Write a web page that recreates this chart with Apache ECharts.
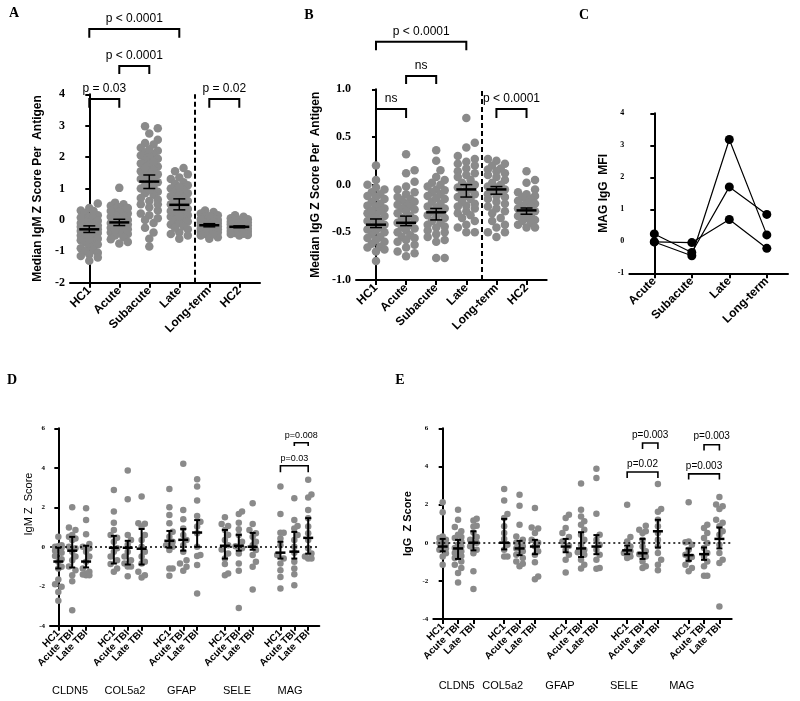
<!DOCTYPE html>
<html>
<head>
<meta charset="utf-8">
<script src="https://cdn.jsdelivr.net/npm/echarts@6/dist/echarts.min.js"></script>
<style>html,body{margin:0;padding:0;background:#fff}#c{width:800px;height:701px}</style>
</head>
<body>
<div id="c"></div>
<script>
// ---------------- DATA ----------------
const catsAB = ['HC1','Acute','Subacute','Late','Long-term','HC2'];
const catsC = ['Acute','Subacute','Late','Long-term'];
const antigens = ['CLDN5','COL5a2','GFAP','SELE','MAG'];
const groupsDE = ['HC1','Acute TBI','Late TBI'];

// Panel A: median IgM Z score per antigen
const aValues = [
  [0.52,0.38,0.3,0.22,0.15,0.1,0.05,0.0,-0.03,-0.08,-0.12,-0.15,-0.2,-0.22,-0.25,-0.28,-0.3,-0.33,-0.36,-0.4,-0.42,-0.45,-0.5,-0.52,-0.55,-0.6,-0.65,-0.7,-0.72,-0.78,-0.85,-0.9,-0.95,-1.0,-1.05,-1.1,-1.15,-1.2,-1.3,0.28,-0.1,-0.35,-0.62,-0.18,0.08],
  [1.02,0.55,0.5,0.45,0.4,0.35,0.3,0.25,0.2,0.15,0.1,0.05,0.0,-0.05,-0.1,-0.12,-0.15,-0.2,-0.25,-0.28,-0.3,-0.35,-0.4,-0.42,-0.45,-0.5,-0.55,-0.62,-0.7,-0.75,0.28,0.12,-0.02,-0.18,0.38,-0.32],
  [2.98,2.92,2.75,2.55,2.45,2.4,2.3,2.2,2.15,2.1,2.05,2.0,1.95,1.9,1.8,1.75,1.7,1.6,1.55,1.5,1.45,1.4,1.3,1.25,1.2,1.1,1.05,1.0,0.9,0.85,0.8,0.7,0.6,0.5,0.4,0.3,0.2,0.15,0.0,-0.1,-0.25,-0.4,-0.6,-0.85,1.65,1.35,0.95,2.25,0.65,1.85,0.5,0.05],
  [1.65,1.55,1.45,1.35,1.3,1.2,1.15,1.1,1.0,0.95,0.9,0.85,0.8,0.75,0.7,0.6,0.55,0.5,0.45,0.4,0.35,0.3,0.25,0.2,0.15,0.1,0.05,0.0,-0.05,-0.1,-0.15,-0.2,-0.3,-0.4,-0.45,-0.5,-0.6,0.65,0.28,1.05,0.12,-0.25],
  [0.3,0.25,0.2,0.15,0.1,0.05,0.0,-0.02,-0.05,-0.08,-0.1,-0.12,-0.15,-0.18,-0.2,-0.22,-0.25,-0.28,-0.3,-0.32,-0.35,-0.38,-0.4,-0.42,-0.45,-0.5,-0.55,-0.6,0.12,-0.06,-0.16,-0.26,-0.36,0.02,-0.46],
  [0.15,0.1,0.05,0.02,0.0,-0.03,-0.06,-0.08,-0.1,-0.12,-0.15,-0.18,-0.2,-0.22,-0.25,-0.28,-0.3,-0.32,-0.35,-0.38,-0.4,-0.42,-0.45,-0.48,-0.5,-0.14,-0.24,-0.34,-0.04,-0.44]
];
const aMean = [-0.3,-0.08,1.22,0.48,-0.17,-0.22];
const aLo   = [-0.4,-0.18,1.0,0.32,-0.22,-0.25];
const aHi   = [-0.19,0.02,1.43,0.67,-0.12,-0.19];
const aBrackets = [[0,3,6.08,5.8],[1,2,4.9,4.65],[0,1,3.85,3.57],[4,5,3.85,3.57]];
const aBracketLabels = ['p < 0.0001','p < 0.0001','p = 0.03','p = 0.02'];

// Panel B: median IgG Z score per antigen
const bValues = [
  [0.2,0.05,0.0,-0.03,-0.05,-0.08,-0.1,-0.13,-0.15,-0.18,-0.2,-0.23,-0.25,-0.28,-0.3,-0.33,-0.35,-0.38,-0.4,-0.42,-0.45,-0.48,-0.5,-0.52,-0.55,-0.58,-0.6,-0.62,-0.65,-0.68,-0.7,-0.8,-0.12,-0.22,-0.32,-0.44,-0.56,-0.66,-0.27,-0.37,-0.47],
  [0.32,0.15,0.12,0.03,-0.02,-0.05,-0.08,-0.1,-0.13,-0.15,-0.18,-0.2,-0.23,-0.25,-0.28,-0.3,-0.33,-0.35,-0.38,-0.4,-0.42,-0.45,-0.48,-0.5,-0.53,-0.55,-0.58,-0.6,-0.63,-0.66,-0.7,-0.72,-0.75,-0.16,-0.26,-0.36,-0.46,-0.56,-0.21],
  [0.36,0.25,0.15,0.08,0.05,0.02,-0.02,-0.05,-0.08,-0.1,-0.12,-0.15,-0.18,-0.2,-0.23,-0.25,-0.28,-0.3,-0.32,-0.35,-0.38,-0.4,-0.42,-0.45,-0.48,-0.5,-0.52,-0.55,-0.58,-0.6,-0.77,-0.77,-0.14,-0.24,-0.34,-0.44,-0.06,0.0],
  [0.7,0.44,0.39,0.3,0.27,0.24,0.2,0.17,0.14,0.1,0.08,0.05,0.02,0.0,-0.03,-0.05,-0.08,-0.1,-0.13,-0.15,-0.18,-0.2,-0.23,-0.25,-0.28,-0.3,-0.35,-0.38,-0.42,-0.45,-0.5,-0.5,0.12,-0.02,-0.12,0.22,-0.22,-0.32],
  [0.27,0.25,0.22,0.2,0.17,0.14,0.1,0.08,0.05,0.02,0.0,-0.03,-0.05,-0.08,-0.1,-0.13,-0.15,-0.18,-0.2,-0.23,-0.25,-0.28,-0.3,-0.35,-0.38,-0.42,-0.45,-0.5,-0.5,-0.55,0.12,-0.02,-0.12,0.16,-0.06],
  [0.14,0.05,0.02,-0.05,-0.08,-0.1,-0.12,-0.15,-0.18,-0.2,-0.22,-0.25,-0.27,-0.3,-0.32,-0.35,-0.37,-0.4,-0.42,-0.45,-0.45,-0.28,-0.33,-0.23,-0.13,-0.38,-0.17]
];
const bMean = [-0.42,-0.4,-0.29,-0.05,-0.05,-0.27];
const bLo   = [-0.45,-0.43,-0.37,-0.13,-0.1,-0.31];
const bHi   = [-0.36,-0.33,-0.25,0.0,-0.02,-0.245];
const bBrackets = [[0,3,1.5,1.41],[1,2,1.14,1.056],[0,1,0.794,0.7],[4,5,0.794,0.7]];
const bBracketLabels = ['p < 0.0001','ns','ns','p < 0.0001'];

// Panel C: MAG IgG MFI per subject
const cSubject1 = [0.23,-0.35,1.7,0.84];
const cSubject2 = [-0.02,-0.04,0.68,-0.22];
const cSubject3 = [-0.02,-0.45,3.18,0.2];

// Panel D: IgM Z score (order: antigen x group)
const dValues = [
  [0.51,0.08,0.03,0.0,-0.05,-0.2,-0.3,-0.47,-0.64,-0.76,-1.02,-1.1,-1.66,-1.9,-2.03,-2.29,-2.73],
  [2.0,0.97,0.85,0.6,0.5,0.42,0.34,0.0,-0.08,-0.25,-0.5,-0.68,-1.0,-1.19,-1.44,-1.75,-3.22],
  [1.95,1.36,0.63,0.14,0.0,-0.08,-0.25,-0.5,-0.76,-1.1,-1.27,-1.36,-1.44,-1.44,-1.4],
  [2.88,1.78,1.22,0.85,0.6,0.45,0.25,-0.08,-0.25,-0.5,-0.68,-0.88,-1.1,-1.27],
  [3.86,2.4,0.6,0.34,0.1,-0.25,-0.5,-0.68,-0.85,-1.0,-1.0,-1.49],
  [2.54,1.19,1.17,1.02,0.6,0.34,0.0,-0.25,-0.5,-0.76,-0.85,-1.27,-1.44,-1.56],
  [2.92,2.0,1.61,1.19,0.76,0.5,0.25,0.08,0.0,-0.17,-1.1,-1.1,-1.47],
  [4.2,1.86,1.39,0.93,0.6,0.34,0.08,-0.25,-0.68,-0.85,-1.02,-1.22],
  [3.42,3.05,2.34,1.56,1.27,1.02,0.68,0.0,-0.42,-0.47,-0.93,-2.37],
  [1.49,1.15,1.05,0.85,0.6,0.34,0.08,-0.14,-0.34,-0.59,-0.88,-1.36,-1.44],
  [1.78,1.66,1.22,0.88,0.6,0.25,0.03,-0.08,-0.34,-0.85,-1.22,-3.1],
  [2.2,1.15,0.85,0.68,0.5,0.25,0.08,-0.17,-0.42,-0.76,-1.02,-2.17],
  [3.05,1.66,0.71,0.71,0.42,0.08,-0.42,-0.59,-0.85,-1.19,-1.53,-2.12],
  [2.46,1.36,1.05,0.93,0.6,0.34,0.0,-0.3,-0.76,-1.1,-1.39,-1.95],
  [3.39,2.65,2.5,1.86,1.44,1.02,0.68,0.34,-0.08,-0.34,-0.5,-0.6,-0.6]
];
const dMean = [-0.75,-0.2,-0.75,-0.05,-0.05,-0.1,0.3,0.35,0.72,0.05,0.05,0.0,-0.3,-0.25,0.45];
const dLo   = [-1.1,-1.05,-1.05,-0.85,-0.9,-0.9,-0.05,-0.2,0.0,-0.6,-0.2,-0.15,-0.6,-0.6,-0.35];
const dHi   = [-0.05,0.5,0.05,0.55,0.3,0.9,0.8,0.9,1.35,0.85,0.6,0.7,0.25,0.75,1.45];
const dBrackets = [[17,18,5.27,5.1],[16,18,4.1,3.77]];
const dBracketLabels = ['p=0.008','p=0.03'];

// Panel E: IgG Z score
const eValues = [
  [2.12,1.6,0.33,0.25,0.16,0.05,0.0,-0.1,-0.2,-0.3,-0.37,-0.55,-0.72,-1.15],
  [1.73,1.2,0.82,0.6,0.42,0.3,0.25,0.07,-0.1,-0.2,-0.28,-0.45,-0.54,-0.7,-0.8,-0.98,-1.15,-1.33,-1.59,-2.08],
  [1.26,1.17,0.89,0.85,0.54,0.3,0.16,0.0,-0.19,-0.37,-0.55,-1.5,-2.43],
  [2.82,2.22,1.5,1.3,0.86,0.51,0.2,-0.1,-0.37,-0.72,-0.72],
  [2.52,1.94,0.94,0.33,0.16,0.0,-0.19,-0.3,-0.45,-0.63,-0.8,-0.98,-1.1,-1.24],
  [1.82,0.8,0.75,0.51,0.16,0.0,-0.19,-0.45,-0.63,-1.03,-1.77,-1.91],
  [1.29,1.47,0.77,0.51,0.3,0.07,-0.16,-0.37,-0.63,-0.89,-1.56],
  [3.1,1.73,1.38,1.12,0.94,0.68,0.42,0.16,-0.1,-0.37,-0.5,-0.63,-0.89,-1.15,-1.35],
  [3.88,3.39,1.52,0.42,0.16,-0.1,-0.37,-0.63,-0.89,-1.33,-1.36],
  [1.99,0.3,0.07,-0.2,-0.37,-0.45,-0.54,-0.72,-0.8],
  [0.89,0.68,0.6,0.51,0.16,-0.2,-0.45,-0.6,-0.72,-0.98,-1.24,-1.33],
  [3.08,1.77,1.63,1.2,0.86,0.51,0.16,-0.2,-0.54,-0.89,-1.15,-1.45],
  [2.12,0.07,0.02,-0.1,-0.37,-0.63,-0.75,-0.89,-1.15,-1.33,-1.5],
  [0.94,0.77,0.51,0.25,-0.02,-0.28,-0.54,-0.72,-0.98,-1.24,-1.73,-1.73],
  [2.4,2.0,1.91,1.77,1.2,1.05,0.86,0.6,0.42,-0.1,-0.54,-0.89,-1.06,-3.35]
];
const eMean = [-0.2,-0.3,0.0,0.0,-0.3,-0.2,-0.2,-0.3,-0.2,-0.4,-0.55,0.6,-0.65,-0.6,0.2];
const eLo   = [-0.45,-0.85,-0.4,-0.35,-0.65,-0.6,-0.5,-0.75,-0.6,-0.6,-0.85,-0.25,-0.95,-0.9,-0.3];
const eHi   = [0.2,0.15,0.6,1.25,0.1,0.15,0.2,0.55,0.4,-0.15,0.2,1.2,-0.3,-0.25,0.8];
const eBrackets = [[13,14,5.23,4.92],[12,14,3.71,3.4],[17,18,5.14,4.83],[16,18,3.61,3.31]];
const eBracketLabels = ['p=0.003','p=0.02','p=0.003','p=0.003'];

// ---------------- LAYOUT ----------------
const SANS = "'Liberation Sans', Arial, sans-serif";
const SERIF = "'Liberation Serif', 'Times New Roman', serif";
const DOT = '#8a8a8a';

const grids = [
  {left:70, top:94.3, width:190, height:188.4},
  {left:356, top:89.3, width:190.7, height:190.7},
  {left:629.3, top:113.3, width:158.7, height:160},
  {left:50, top:428.3, width:269.3, height:197.4},
  {left:433.3, top:428.3, width:298.4, height:190.7}
];
const xr = [[-0.643,5.69],[-0.664,5.67],[-0.667,3.565],[-0.6,18.8],[-0.61,18.8]];
const yr = [[-2,4,1],[-1,1,0.5],[-1,4,1],[-4,6,2],[-4,6,2]];
const pxX = i => grids[i].width/(xr[i][1]-xr[i][0]);
const pxY = i => grids[i].height/(yr[i][1]-yr[i][0]);

const posDE = k => Math.floor(k/3)*4 + (k%3);
const ticksDE = dValues.map((_,k)=>posDE(k));

function swarm(values, pY, maxHalf, diam){
  const placed=[]; const offs=new Array(values.length);
  const order=values.map((v,i)=>i).sort((a,b)=>values[a]-values[b]);
  const step=diam*0.5; const cands=[0];
  for(let k=1;k*step<=maxHalf+0.01;k++){cands.push(k*step,-k*step);}
  order.forEach(i=>{
    const y=values[i]*pY; let best=0, bestD=-1;
    for(const c of cands){
      let minD=Infinity;
      for(const p of placed){const d=Math.hypot(p[0]-c,p[1]-y); if(d<minD)minD=d;}
      if(minD>=diam*0.85){best=c;bestD=minD;break;}
      if(minD>bestD){bestD=minD;best=c;}
    }
    placed.push([best,y]); offs[i]=best;
  });
  return offs;
}
function scatterData(groups, posFn, gi, maxHalf, diam){
  const out=[];
  groups.forEach((vals,k)=>{
    const offs=swarm(vals,pxY(gi),maxHalf,diam);
    vals.forEach((v,j)=>out.push([posFn(k)+offs[j]/pxX(gi), v]));
  });
  return out;
}

function statsRender(meanHalf, capHalf, meanW, barW){
  return function(params, api){
    const x=api.value(0), m=api.value(1), lo=api.value(2), hi=api.value(3);
    const pm=api.coord([x,m]), pl=api.coord([x,lo]), ph=api.coord([x,hi]);
    const st={stroke:'#000', lineWidth:barW};
    return {type:'group', children:[
      {type:'line', shape:{x1:pl[0],y1:pl[1],x2:ph[0],y2:ph[1]}, style:st},
      {type:'line', shape:{x1:pl[0]-capHalf,y1:pl[1],x2:pl[0]+capHalf,y2:pl[1]}, style:st},
      {type:'line', shape:{x1:ph[0]-capHalf,y1:ph[1],x2:ph[0]+capHalf,y2:ph[1]}, style:st},
      {type:'line', shape:{x1:pm[0]-meanHalf,y1:pm[1],x2:pm[0]+meanHalf,y2:pm[1]}, style:{stroke:'#000', lineWidth:meanW}}
    ]};
  };
}
function bracketRender(labels, fontSize, gap, lw){
  return function(params, api){
    const x1=api.value(0), x2=api.value(1), yt=api.value(2), yl=api.value(3);
    const a=api.coord([x1,yl]), b=api.coord([x1,yt]), c=api.coord([x2,yt]), d=api.coord([x2,yl]);
    return {type:'group', children:[
      {type:'polyline', shape:{points:[a,b,c,d]}, style:{stroke:'#000', lineWidth:lw, fill:null}},
      {type:'text', x:(b[0]+c[0])/2, y:b[1]-gap, style:{text:labels[params.dataIndex], fontSize:fontSize, fontFamily:SANS, fill:'#000', align:'center', verticalAlign:'bottom', textAlign:'center', textVerticalAlign:'bottom'}}
    ]};
  };
}

function xAxisCfg(i, values, fmt, fontSize){
  return {type:'value', gridIndex:i, min:xr[i][0], max:xr[i][1],
    splitLine:{show:false},
    axisLine:{show:true, onZero:false, lineStyle:{color:'#000', width:2}},
    axisTick:{show:true, customValues:values, length:5, lineStyle:{color:'#000', width:2}},
    axisLabel:{show:true, customValues:values, formatter:fmt, rotate:45, margin:6, color:'#000', fontFamily:SANS, fontWeight:'bold', fontSize:fontSize}
  };
}
function yAxisCfg(i, name, nameGap, nameSize, nameWeight, labSize, fmt, namePad){
  return {type:'value', gridIndex:i, min:yr[i][0], max:yr[i][1], interval:yr[i][2],
    name:name, nameLocation:'middle', nameGap:nameGap,
    nameTextStyle:{color:'#000', fontFamily:SANS, fontWeight:nameWeight, fontSize:nameSize, padding:namePad||0},
    splitLine:{show:false},
    axisLine:{show:true, lineStyle:{color:'#000', width:2}},
    axisTick:{show:true, length:4, lineStyle:{color:'#000', width:2}},
    axisLabel:{color:'#000', fontFamily:SERIF, fontWeight:'bold', fontSize:labSize, margin:5, formatter:fmt}
  };
}

const abTicks=[0,1,2,3,4,5];
const series=[];
// A
series.push({type:'scatter', xAxisIndex:0, yAxisIndex:0, symbolSize:8.5, itemStyle:{color:DOT, opacity:1},
  data:scatterData(aValues, k=>k, 0, 10, 8.5), silent:true,
  markLine:{silent:true, symbol:['none','none'], label:{show:false}, lineStyle:{color:'#000', type:[5,3], width:2}, data:[{xAxis:3.5}]}});
series.push({type:'custom', xAxisIndex:0, yAxisIndex:0, z:5, clip:false, renderItem:statsRender(10,6,2.5,1.5),
  data:aMean.map((m,k)=>[k,m,aLo[k],aHi[k]])});
series.push({type:'custom', xAxisIndex:0, yAxisIndex:0, z:5, clip:false, renderItem:bracketRender(aBracketLabels,12,4,2), data:aBrackets});
// B
series.push({type:'scatter', xAxisIndex:1, yAxisIndex:1, symbolSize:8.5, itemStyle:{color:DOT, opacity:1},
  data:scatterData(bValues, k=>k, 1, 10, 8.5), silent:true,
  markLine:{silent:true, symbol:['none','none'], label:{show:false}, lineStyle:{color:'#000', type:[5,3], width:2}, data:[{xAxis:3.5}]}});
series.push({type:'custom', xAxisIndex:1, yAxisIndex:1, z:5, clip:false, renderItem:statsRender(10,6,2.5,1.5),
  data:bMean.map((m,k)=>[k,m,bLo[k],bHi[k]])});
series.push({type:'custom', xAxisIndex:1, yAxisIndex:1, z:5, clip:false, renderItem:bracketRender(bBracketLabels,12,4,2), data:bBrackets});
// C
[cSubject1,cSubject2,cSubject3].forEach(s=>{
  series.push({type:'line', xAxisIndex:2, yAxisIndex:2, data:s.map((v,k)=>[k,v]), symbol:'circle', symbolSize:9,
    showAllSymbol:true, lineStyle:{color:'#000', width:1.2}, itemStyle:{color:'#000'}, silent:true});
});
// D
series.push({type:'scatter', xAxisIndex:3, yAxisIndex:3, symbolSize:6.5, itemStyle:{color:DOT, opacity:1},
  data:scatterData(dValues, posDE, 3, 5, 6.5), silent:true,
  markLine:{silent:true, symbol:['none','none'], label:{show:false}, lineStyle:{color:'#000', type:[2,3], width:1.6}, data:[{yAxis:0}]}});
series.push({type:'custom', xAxisIndex:3, yAxisIndex:3, z:5, clip:false, renderItem:statsRender(5,3,2.5,2),
  data:dMean.map((m,k)=>[posDE(k),m,dLo[k],dHi[k]])});
series.push({type:'custom', xAxisIndex:3, yAxisIndex:3, z:5, clip:false, renderItem:bracketRender(dBracketLabels,9,3,1.6), data:dBrackets});
// E
series.push({type:'scatter', xAxisIndex:4, yAxisIndex:4, symbolSize:6.5, itemStyle:{color:DOT, opacity:1},
  data:scatterData(eValues, posDE, 4, 5, 6.5), silent:true,
  markLine:{silent:true, symbol:['none','none'], label:{show:false}, lineStyle:{color:'#000', type:[2,3], width:1.6}, data:[{yAxis:0}]}});
series.push({type:'custom', xAxisIndex:4, yAxisIndex:4, z:5, clip:false, renderItem:statsRender(5,3,2.5,2),
  data:eMean.map((m,k)=>[posDE(k),m,eLo[k],eHi[k]])});
series.push({type:'custom', xAxisIndex:4, yAxisIndex:4, z:5, clip:false, renderItem:bracketRender(eBracketLabels,10,3,1.6), data:eBrackets});

const letter=(t,x,y)=>({type:'text', x:x, y:y, style:{text:t, fontFamily:SERIF, fontWeight:'bold', fontSize:14, fill:'#000', align:'center', verticalAlign:'middle'}});
const glabel=(t,x,y)=>({type:'text', x:x, y:y, style:{text:t, fontFamily:SANS, fontSize:11, fill:'#000', align:'center', verticalAlign:'middle'}});
const dLabelX=[70,125,181.7,237,290], eLabelX=[456.7,502.7,560,624,681.7];

const option={
  animation:false,
  backgroundColor:'#fff',
  grid:grids.map(g=>Object.assign({containLabel:false, outerBoundsMode:'none'},g)),
  xAxis:[
    xAxisCfg(0, abTicks, v=>catsAB[v], 12),
    xAxisCfg(1, abTicks, v=>catsAB[v], 12),
    xAxisCfg(2, [0,1,2,3], v=>catsC[v], 12),
    xAxisCfg(3, ticksDE, v=>groupsDE[v%4], 10),
    xAxisCfg(4, ticksDE, v=>groupsDE[v%4], 10)
  ],
  yAxis:[
    yAxisCfg(0,'Median IgM Z Score Per  Antigen',26,12,'bold',12),
    yAxisCfg(1,'Median IgG Z Score Per  Antigen',34,12,'bold',12, v=>v.toFixed(1)),
    yAxisCfg(2,'MAG IgG  MFI',20,12,'bold',8),
    yAxisCfg(3,'IgM Z  Score',16,11,'normal',7, undefined, [0,0,0,46]),
    yAxisCfg(4,'IgG  Z Score',20,11,'bold',7)
  ],
  series:series,
  graphic:[
    letter('A',14,13), letter('B',309,15), letter('C',584,15), letter('D',12,380), letter('E',400,380)
  ].concat(antigens.map((a,i)=>glabel(a,dLabelX[i],690.7)))
   .concat(antigens.map((a,i)=>glabel(a,eLabelX[i],686)))
};
const chart=echarts.init(document.getElementById('c'),null,{renderer:'canvas'});
chart.setOption(option);
</script>
</body>
</html>
